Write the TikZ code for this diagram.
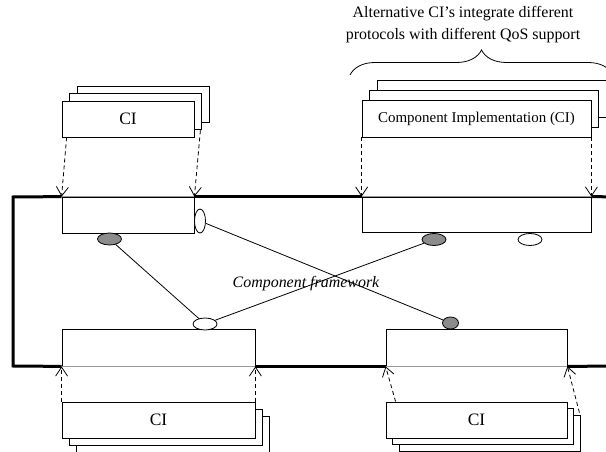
\documentclass[tikz,border=0pt]{standalone}
\usepackage{fontspec}
\setmainfont{Liberation Serif}
\usetikzlibrary{shapes,arrows.meta,shadows,calc,positioning,decorations.pathreplacing}

\begin{document}
\begin{tikzpicture}[x=1bp,y=-1bp,line width=0.8bp,
  slot/.style={draw,fill=white,inner sep=0pt},
  ci/.style={draw,fill=white,inner sep=0pt,font=\fontsize{17.5}{20}\selectfont},
  port/.style={ellipse,draw,fill=white,minimum width=24bp,minimum height=12bp,inner sep=0pt},
  frame/.style={line width=3bp},
  plug/.style={dash pattern=on 4bp off 3bp,-{Straight Barb[length=9bp,width=12bp]}}]
\useasboundingbox (0,0) rectangle (606,452);
\clip (0,0) rectangle (606,452);

% slots of the component framework
\node[slot,minimum width=132bp,minimum height=36bp] at (128,215) (tl) {};
\node[slot,minimum width=229bp,minimum height=35bp] at (476.5,214.5) (tr) {};
\node[slot,minimum width=193bp,minimum height=37bp] at (158.5,347.5) (bl) {};
\node[slot,minimum width=181bp,minimum height=37bp] at (476.5,347.5) (br) {};

\coordinate (cornerTL) at (13,197);
\coordinate (cornerBL) at (13,366);
\coordinate (endT) at (620,197);
\coordinate (endB) at (620,366);
\draw[frame] (tl.north west) -- (cornerTL) -- (cornerBL) -- (bl.south west);
\draw[frame] (bl.south east) -- (br.south west);
\draw[frame] (br.south east) -- (endB);
\draw[frame] (tl.north east) -- (tr.north west);
\draw[frame] (tr.north east) -- (endT);
\draw[black!40] (tl.north west) -- (tl.north east);
\draw[black!40] (tr.north west) -- (tr.north east);
\draw[black!40] (bl.south west) -- (bl.south east);
\draw[black!40] (br.south west) -- (br.south east);

% component implementations
\node[ci,minimum width=132bp,minimum height=36bp,double copy shadow={shadow xshift=7.5bp,shadow yshift=7.5bp}] at (128,119) (tlci) {CI};
\node[ci,minimum width=229bp,minimum height=37bp,font=\fontsize{15}{18}\selectfont,double copy shadow={shadow xshift=7.5bp,shadow yshift=10bp}] at (476.5,118.5) (trci) {Component Implementation (CI)};
\node[ci,minimum width=193bp,minimum height=36bp,double copy shadow={shadow xshift=7bp,shadow yshift=-7bp}] at (158.5,420) (blci) {CI};
\node[ci,minimum width=181bp,minimum height=36bp,double copy shadow={shadow xshift=6.7bp,shadow yshift=-6.5bp}] at (476.5,420) (brci) {CI};

\draw[plug] ([xshift=5bp]tlci.south west) -- (tl.north west);
\draw[plug] ([shift={(6,-7)}]tlci.south east) -- (tl.north east);
\draw[plug] (trci.south west) -- (tr.north west);
\draw[plug] (trci.south east) -- (tr.north east);
\draw[plug] (blci.north west) -- (bl.south west);
\draw[plug] (blci.north east) -- (bl.south east);
\draw[plug] ([xshift=10bp]brci.north west) -- (br.south west);
\draw[plug] ([shift={(12,11)}]brci.north east) -- (br.south east);

% interfaces and receptacles
\node[port,fill=black!45] at (109.5,239) (pa) {};
\node[port,minimum width=11bp,minimum height=24bp] at (200,221) (pb) {};
\node[port,fill=black!45] at (434,239.5) (pc) {};
\node[port] at (530,239.5) (pd) {};
\node[port] at (205,324) (pe) {};
\node[port,fill=black!45,minimum width=16bp] at (450.5,323) (pf) {};

\draw (pa) -- (pe);
\draw (pb) -- (pf);
\draw (pe) -- (pc);

\node[font=\fontsize{16}{19}\selectfont\itshape] at (306,284) (fw) {Component framework};

\coordinate (braceL) at (350,75);
\coordinate (braceR) at (613,75);
\draw[decorate,decoration={brace,amplitude=25bp}] (braceL) -- (braceR);
\node[align=center,font=\fontsize{16}{22}\selectfont] at (463,25) (alt) {Alternative CI’s integrate different\\protocols with different QoS support};
\end{tikzpicture}
\end{document}
